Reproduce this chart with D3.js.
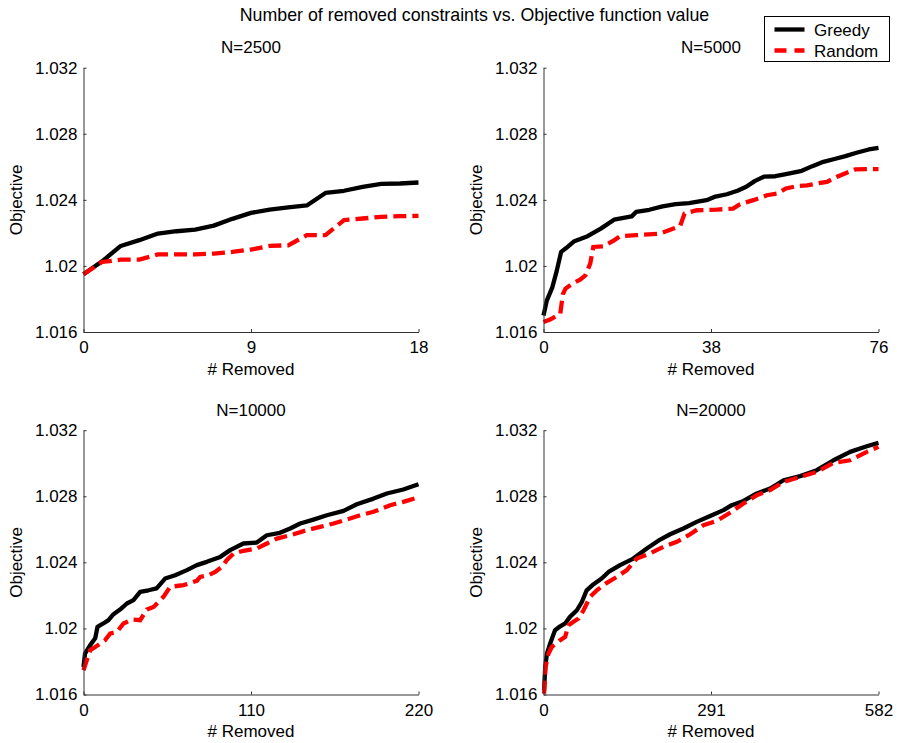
<!DOCTYPE html>
<html>
<head>
<meta charset="utf-8">
<script src="https://cdn.jsdelivr.net/npm/d3@7"></script>
<style>
  body { margin: 0; background: #fff; }
  svg text { font-family: "Liberation Sans", Arial, Helvetica, sans-serif; fill: #000; }
</style>
</head>
<body>
<div id="chart" style="width:897px;height:743px"></div>
<script>
// ---- data ----
const mainTitle = "Number of removed constraints vs. Objective function value";
const panelTitles = ["N=2500", "N=5000", "N=10000", "N=20000"];
const xMax = [18, 76, 220, 582];
const yTicks = [1.016, 1.02, 1.024, 1.028, 1.032];
const seriesNames = ["Greedy", "Random"];

// N=2500
const g2500x = [0, 1, 2, 3, 4, 5, 6, 7, 8, 9, 10, 11, 12, 13, 14, 15, 16, 17, 18];
const g2500y = [1.0195, 1.02028, 1.02121, 1.02156, 1.02196, 1.0221, 1.0222, 1.02244, 1.02285, 1.02321,
  1.02341, 1.02354, 1.02366, 1.02442, 1.02455, 1.02479, 1.02497, 1.02499, 1.02505];
const r2500x = g2500x;
const r2500y = [1.0195, 1.02024, 1.02038, 1.02038, 1.0207, 1.0207, 1.0207, 1.02075, 1.02085, 1.02099,
  1.02121, 1.02125, 1.02186, 1.02186, 1.02277, 1.02287, 1.02297, 1.02301, 1.02303];

// N=5000
const g5000x = [0, 0.75, 2, 3, 4, 5, 7, 10, 13, 16, 20, 21, 24, 27, 30, 33, 37, 39, 41.6, 44, 46, 48,
  50, 52.6, 55, 58.6, 61, 63.5, 65.8, 68.5, 71, 73.8, 76];
const g5000y = [1.017, 1.0179, 1.0187, 1.0197, 1.02085, 1.02105, 1.0215, 1.0218, 1.02226, 1.0228, 1.023,
  1.02327, 1.0234, 1.0236, 1.02374, 1.0238, 1.02398, 1.0242, 1.02434, 1.02455, 1.02479, 1.02515,
  1.0254, 1.02543, 1.02556, 1.02576, 1.02604, 1.0263, 1.02646, 1.02665, 1.02685, 1.02705, 1.02715];
const r5000x = [0, 1.5, 3.8, 4.4, 5, 6.4, 8.3, 9.5, 10.6, 11.3, 13.6, 16, 17.4, 21, 26.5, 29.5, 31, 32,
  34.8, 39.3, 43, 44.6, 47.6, 50.7, 53, 55, 57.5, 59.8, 62, 64.3, 66.6, 68.8, 70.7, 73.4, 76];
const r5000y = [1.0166, 1.01675, 1.0171, 1.0183, 1.01863, 1.0189, 1.01917, 1.01943, 1.02014, 1.02115,
  1.02119, 1.02155, 1.0218, 1.02186, 1.02196, 1.02226, 1.02242, 1.02317, 1.02337, 1.02341, 1.02347,
  1.02374, 1.02398, 1.02428, 1.02438, 1.02469, 1.02483, 1.02487, 1.02499, 1.02509, 1.0254, 1.02564,
  1.02584, 1.02586, 1.02586];

// N=10000
const g10000x = [0, 1, 4.4, 7.7, 9.2, 13, 16.4, 19.7, 24, 28.5, 32.8, 37.2, 42.7, 48, 53.6, 60.2, 67.9,
  74.4, 81, 89.8, 96.3, 105, 113.8, 120.4, 129, 135.7, 142.3, 151, 159.8, 170.8, 179.5, 190.5, 199.2,
  210, 220];
const g10000y = [1.01767, 1.01848, 1.01899, 1.0194, 1.0201, 1.0203, 1.0205, 1.02086, 1.02114, 1.02151,
  1.02171, 1.02221, 1.02231, 1.02242, 1.02302, 1.02322, 1.02353, 1.02383, 1.02403, 1.02433, 1.02474,
  1.02514, 1.0252, 1.02564, 1.02579, 1.02605, 1.02635, 1.02659, 1.02685, 1.02712, 1.02752, 1.02786,
  1.02817, 1.02841, 1.02873];
const r10000x = [0, 1.8, 4.4, 7.7, 14.2, 17.5, 21.9, 26.3, 31.7, 37.2, 41.6, 46, 52.5, 56.9, 65.7, 74.4,
  76.6, 82, 86.5, 91, 94, 98.5, 105, 113.8, 120.4, 127, 135.7, 146.7, 155.4, 164.2, 172.9, 181.7, 190.5,
  201.4, 210, 220];
const r10000y = [1.01747, 1.01798, 1.01868, 1.01888, 1.01929, 1.01969, 1.01979, 1.0203, 1.02054, 1.0205,
  1.02114, 1.0213, 1.02191, 1.02252, 1.02262, 1.02288, 1.02312, 1.02322, 1.02342, 1.02373, 1.02413,
  1.02453, 1.0247, 1.02484, 1.02514, 1.02544, 1.02564, 1.02595, 1.02615, 1.02635, 1.02659, 1.02685,
  1.02706, 1.02746, 1.02766, 1.02794];

// N=20000
const g20000x = [1, 3, 6, 11.6, 20, 29, 37.6, 46, 58, 66.6, 75, 87, 101, 113, 133, 156, 179.5, 202.7, 220,
  243, 266, 289.5, 312.7, 327, 347.5, 370.6, 393.7, 417, 446, 474.8, 503.8, 532.7, 561.7, 582];
const g20000y = [1.01626, 1.01767, 1.01848, 1.01909, 1.01989, 1.02013, 1.0203, 1.0207, 1.0211, 1.0216,
  1.02231, 1.02268, 1.02302, 1.02342, 1.02383, 1.02423, 1.02484, 1.02538, 1.0257, 1.02605, 1.02645,
  1.0268, 1.02716, 1.02746, 1.02772, 1.02817, 1.02847, 1.02897, 1.02922, 1.02958, 1.03018, 1.03069,
  1.03103, 1.03123];
const r20000x = [1, 3.5, 8.7, 14.5, 29, 37.6, 43.4, 52, 60.8, 69.5, 81, 92.6, 110, 127.4, 144.8, 162, 185,
  208.5, 231.6, 254.8, 278, 301, 324, 347.5, 370.6, 393.7, 417, 446, 474.8, 503.8, 532.7, 561.7, 582];
const r20000y = [1.01606, 1.01767, 1.01848, 1.01888, 1.01929, 1.01949, 1.02019, 1.0204, 1.0206, 1.0211,
  1.02191, 1.02231, 1.02276, 1.02312, 1.02353, 1.02423, 1.02454, 1.02494, 1.02524, 1.0257, 1.02625,
  1.02651, 1.027, 1.02756, 1.02807, 1.02837, 1.02887, 1.02917, 1.02948, 1.03002, 1.03018, 1.03069,
  1.03099];

const greedyX = [g2500x, g5000x, g10000x, g20000x];
const greedyY = [g2500y, g5000y, g10000y, g20000y];
const randomX = [r2500x, r5000x, r10000x, r20000x];
const randomY = [r2500y, r5000y, r10000y, r20000y];

// ---- layout ----
const W = 897, H = 743;
const colX = [83.5, 543.5];
const rowY = [67.7, 430.2];
const pw = 335, ph = 264.3;
const axisColor = "#333";
const fontSize = 17;

const svg = d3.select("#chart").append("svg")
  .attr("width", W).attr("height", H);

svg.append("text")
  .attr("x", 474.5).attr("y", 21)
  .attr("text-anchor", "middle")
  .style("font-size", "17.8px")
  .text(mainTitle);

const zip = (xs, ys) => xs.map((x, i) => [x, ys[i]]);

panelTitles.forEach((t, i) => {
  const left = colX[i % 2], top = rowY[Math.floor(i / 2)];
  const g = svg.append("g").attr("transform", `translate(${left},${top})`);

  const x = d3.scaleLinear().domain([0, xMax[i]]).range([0, pw]);
  const y = d3.scaleLinear().domain([1.016, 1.032]).range([ph, 0]);

  const line = d3.line().x(d => x(d[0])).y(d => y(d[1]));

  g.append("path")
    .datum(zip(greedyX[i], greedyY[i]))
    .attr("d", line)
    .attr("fill", "none")
    .attr("stroke", "#000")
    .attr("stroke-width", 4.3)
    .attr("stroke-linejoin", "round");

  g.append("path")
    .datum(zip(randomX[i], randomY[i]))
    .attr("d", line)
    .attr("fill", "none")
    .attr("stroke", "#ff0000")
    .attr("stroke-width", 4.3)
    .attr("stroke-dasharray", "13,6");

  const yAxis = g.append("g")
    .call(d3.axisLeft(y).tickValues(yTicks).tickFormat(d3.format("~g"))
      .tickSizeInner(-3).tickSizeOuter(0).tickPadding(6));
  const xAxis = g.append("g")
    .attr("transform", `translate(0,${ph})`)
    .call(d3.axisBottom(x).tickValues([0, xMax[i] / 2, xMax[i]])
      .tickSizeInner(-3).tickSizeOuter(0).tickPadding(9));

  [yAxis, xAxis].forEach(a => {
    a.select(".domain").attr("stroke", axisColor).attr("stroke-width", 1);
    a.selectAll(".tick line").attr("stroke", axisColor);
    a.selectAll(".tick text")
      .style("font-size", fontSize + "px")
      .style("font-family", '"Liberation Sans", Arial, sans-serif')
      .attr("fill", "#000");
  });

  g.append("text")
    .attr("x", pw / 2).attr("y", -14.5)
    .attr("text-anchor", "middle")
    .style("font-size", fontSize + "px")
    .text(t);

  g.append("text")
    .attr("x", pw / 2).attr("y", ph + 43)
    .attr("text-anchor", "middle")
    .style("font-size", fontSize + "px")
    .text("# Removed");

  g.append("text")
    .attr("transform", `translate(-62,${ph / 2}) rotate(-90)`)
    .attr("text-anchor", "middle")
    .style("font-size", fontSize + "px")
    .text("Objective");
});

// ---- legend ----
const lg = svg.append("g").attr("transform", "translate(764.5,16.5)");
lg.append("rect")
  .attr("width", 125).attr("height", 45)
  .attr("fill", "#fff").attr("stroke", "#000").attr("stroke-width", 1);
seriesNames.forEach((name, j) => {
  const yy = 13 + j * 21;
  lg.append("line")
    .attr("x1", 10).attr("x2", 40).attr("y1", yy).attr("y2", yy)
    .attr("stroke", j === 0 ? "#000" : "#ff0000")
    .attr("stroke-width", 4.3)
    .attr("stroke-dasharray", j === 0 ? null : "12,8");
  lg.append("text")
    .attr("x", 49.5).attr("y", yy + 6)
    .style("font-size", fontSize + "px")
    .text(name);
});
</script>
</body>
</html>
